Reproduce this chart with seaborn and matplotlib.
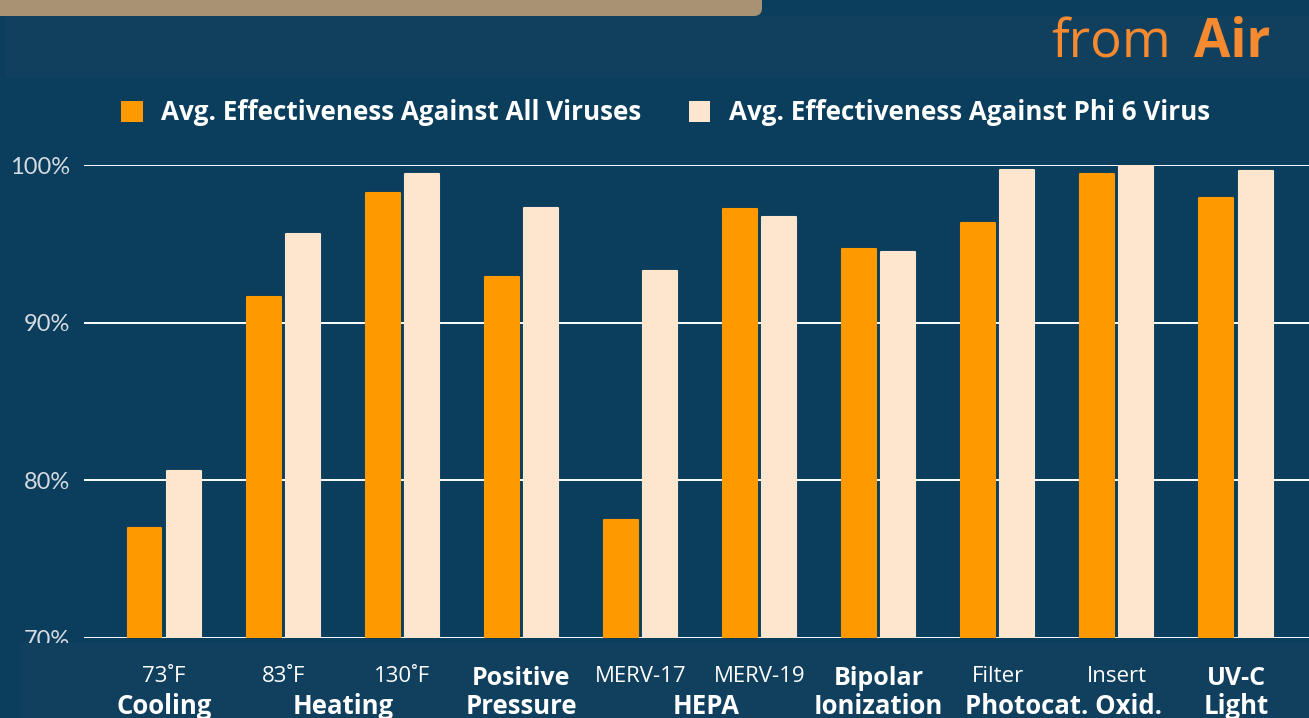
import matplotlib
matplotlib.use("Agg")
import matplotlib.pyplot as plt
import seaborn as sns
import pandas as pd
from matplotlib.patches import Rectangle, FancyBboxPatch, Patch
from matplotlib.transforms import IdentityTransform, blended_transform_factory

# ---------------- data ----------------
categories = ["73˚F", "83˚F", "130˚F", "Positive", "MERV-17", "MERV-19",
              "Bipolar", "Filter", "Insert", "UV-C"]
all_viruses = [77.0, 91.6, 98.2, 92.9, 77.5, 97.2, 94.7, 96.3, 99.4, 97.9]
phi6_virus = [80.6, 95.6, 99.4, 97.3, 93.3, 96.7, 94.5, 99.7, 100.0, 99.6]
series_names = ["Avg. Effectiveness Against All Viruses",
                "Avg. Effectiveness Against Phi 6 Virus"]
bold_ticks = ["Positive", "Bipolar", "UV-C"]
group_labels = ["Cooling", "Heating", "Pressure", "HEPA", "Ionization",
                "Photocat. Oxid.", "Light"]
group_positions = [0, 1.5, 3, 4.55, 6, 7.55, 9]
yticks = [70, 80, 90, 100]
ytick_labels = ["70%", "80%", "90%", "100%"]

# ---------------- style ----------------
BG = "#0b3e5c"
BAND = "#10405e"
ORANGE = "#ff9900"
CREAM = "#fde5ce"
TITLE_OR = "#f58a30"

sns.set_theme(style="white")
plt.rcParams["font.family"] = ["Open Sans", "DejaVu Sans"]

df = pd.DataFrame({
    "category": categories * 2,
    "series": [series_names[0]] * len(categories) + [series_names[1]] * len(categories),
    "value": all_viruses + phi6_virus,
})

fig = plt.figure(figsize=(13.09, 7.18), dpi=100, facecolor=BG)
ax = fig.add_axes([84 / 1309, 1 - 638 / 718, 1 - 84 / 1309, (638 - 165) / 718])
ax.set_facecolor(BG)

sns.barplot(data=df, x="category", y="value", hue="series", order=categories,
            hue_order=series_names, palette=[ORANGE, CREAM], width=0.656, gap=0.13,
            saturation=1, ax=ax, legend=False, zorder=3)
for p in ax.patches:
    p.set_edgecolor(p.get_facecolor())
    p.set_linewidth(1.5)
    p.set_joinstyle("round")

ax.set_ylim(70, 100)
ax.set_xlim(-0.672, 9.613)
ax.set_yticks(yticks)
ax.set_yticklabels(ytick_labels)
ax.yaxis.grid(True, color="white", linewidth=1.4, zorder=0)
ax.set_axisbelow(True)
for s in ax.spines.values():
    s.set_visible(False)
ax.set_xlabel("")
ax.set_ylabel("")
ax.tick_params(axis="y", length=0, pad=10, labelsize=15, labelcolor="#d5dbe0")
ax.tick_params(axis="x", length=0, pad=20, labelsize=16, labelcolor="white")
for lbl in ax.yaxis.get_ticklabels():
    lbl.set_family(["Lato", "DejaVu Sans"])
    lbl.set_fontsize(17)
for lbl in ax.get_xticklabels():
    if lbl.get_text() in bold_ticks:
        lbl.set_fontweight("bold")
        lbl.set_fontsize(18)

# bands (behind the axes)
fig.patches.append(Rectangle((20, 0), 1400, 75, transform=IdentityTransform(),
                             facecolor=BAND, edgecolor="none", zorder=-1))
fig.patches.append(Rectangle((5, 640), 1400, 62, transform=IdentityTransform(),
                             facecolor=BAND, edgecolor="none", zorder=-1))
# small piece of band over the 70% label (clips it like the reference)
fig.patches.append(Rectangle((20, 0), 64, 75, transform=IdentityTransform(),
                             facecolor=BAND, edgecolor="none", zorder=5))
fig.patches.append(FancyBboxPatch((-20, 702), 782, 40,
                                  boxstyle="round,pad=0,rounding_size=8",
                                  transform=IdentityTransform(),
                                  facecolor="#a89274", edgecolor="none", zorder=1))

trans = blended_transform_factory(ax.transData, fig.transFigure)
for pos, g in zip(group_positions, group_labels):
    ax.text(pos, 1 - 707 / 718, g, transform=trans, ha="center", va="center",
            fontsize=18.5, fontweight="bold", color="white", zorder=7, clip_on=False)

# "from Air"
fig.text(1270 / 1309, 1 - 57 / 718, "Air", ha="right", va="baseline",
         fontsize=38, fontweight="bold", color=TITLE_OR)
fig.text(1171 / 1309, 1 - 57 / 718, "from", ha="right", va="baseline",
         fontsize=38, color=TITLE_OR)

# legend
handles = [Patch(facecolor=ORANGE, edgecolor="none"), Patch(facecolor=CREAM, edgecolor="none")]
leg = fig.legend(handles, series_names, ncol=2, loc="center left",
                 bbox_to_anchor=(98 / 1309, 1 - 113 / 718), frameon=False,
                 handlelength=0.82, handleheight=0.82, handletextpad=0.7,
                 columnspacing=1.85, prop={"size": 18.7, "weight": "bold"})
for t in leg.get_texts():
    t.set_color("white")

fig.savefig("out.png", dpi=100, facecolor=BG)
